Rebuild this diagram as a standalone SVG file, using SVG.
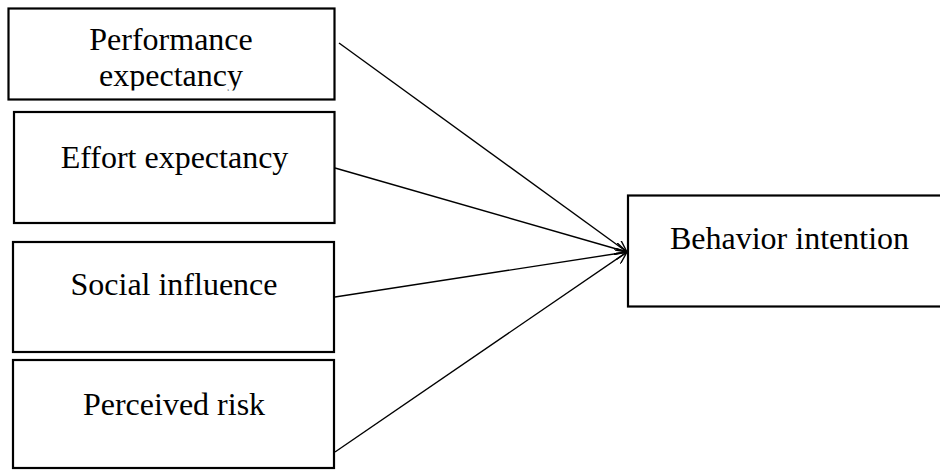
<svg xmlns="http://www.w3.org/2000/svg" width="940" height="470" viewBox="0 0 940 470">
<style>
.box{fill:#fff;stroke:#000;stroke-width:2.2}
.lbl{font-family:"Liberation Serif","Times New Roman",serif;font-size:32px;fill:#000;text-anchor:middle}
.conn{stroke:#000;stroke-width:1.4;fill:none;marker-end:url(#arr)}
</style>
<defs>
<marker id="arr" viewBox="0 0 12 12" refX="12" refY="6" markerWidth="12" markerHeight="12" markerUnits="userSpaceOnUse" orient="auto">
<path d="M0,0 L12,6 L0,12" fill="none" stroke="#000" stroke-width="1.4"/>
</marker>
<clipPath id="c1"><rect x="9" y="9" width="325" height="81.5"/></clipPath>
</defs>
<rect width="940" height="470" fill="#fff"/>
<g id="performance-expectancy">
<rect class="box" x="8.5" y="8.5" width="326" height="91"/>
<g clip-path="url(#c1)">
<text class="lbl" x="171" y="50">Performance</text>
<text class="lbl" x="171" y="86">expectancy</text>
</g>
</g>
<g id="effort-expectancy">
<rect class="box" x="14" y="112" width="320.5" height="111"/>
<text class="lbl" x="174.5" y="168">Effort expectancy</text>
</g>
<g id="social-influence">
<rect class="box" x="13" y="242" width="321" height="110"/>
<text class="lbl" x="174" y="295">Social influence</text>
</g>
<g id="perceived-risk">
<rect class="box" x="13" y="360" width="321" height="108"/>
<text class="lbl" x="174" y="415">Perceived risk</text>
</g>
<g id="behavior-intention">
<rect class="box" x="628" y="195.5" width="330" height="111"/>
<text class="lbl" x="789.5" y="249">Behavior intention</text>
</g>
<g id="connectors">
<line class="conn" x1="339" y1="43" x2="627" y2="252"/>
<line class="conn" x1="335" y1="168" x2="627" y2="252"/>
<line class="conn" x1="335" y1="297" x2="627" y2="252"/>
<line class="conn" x1="335" y1="452" x2="627" y2="252"/>
</g>
</svg>
